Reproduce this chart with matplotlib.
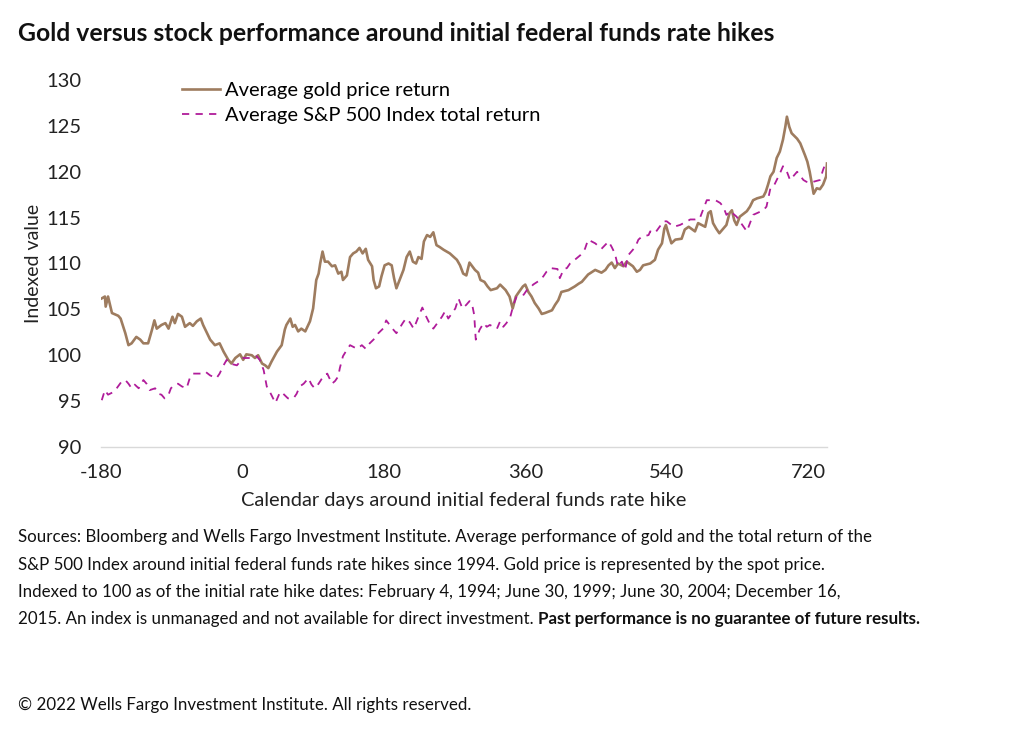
import matplotlib
matplotlib.use("Agg")
import matplotlib.pyplot as plt

# Average gold price return (indexed, day 0 = 100)
gold_days = [-179, -175, -174, -171, -166, -158, -155, -149, -145, -141, -135, -130, -126, -120,
             -115, -112, -109, -103, -98, -94, -89, -86, -82, -77, -73, -67, -63, -58, -53, -50,
             -45, -41, -35, -29, -24, -18, -14, -9, -3, 1, 5, 12, 16, 20, 25, 29, 33, 37, 44, 50,
             54, 56, 61, 64, 67, 71, 75, 80, 86, 90, 94, 97, 99, 102, 105, 109, 114, 118, 122,
             126, 128, 133, 137, 141, 145, 149, 153, 157, 160, 165, 167, 170, 174, 177, 181, 186,
             190, 193, 196, 200, 205, 209, 213, 217, 221, 224, 228, 231, 235, 239, 243, 247, 251,
             256, 264, 273, 277, 281, 285, 289, 296, 300, 303, 308, 312, 316, 324, 328, 335, 340,
             344, 348, 352, 357, 360, 364, 368, 372, 377, 381, 385, 394, 398, 402, 406, 415, 423,
             428, 432, 436, 440, 449, 457, 462, 466, 470, 474, 478, 485, 489, 497, 502, 506, 510,
             519, 525, 529, 534, 537, 539, 542, 546, 551, 559, 563, 568, 576, 580, 589, 593, 596,
             599, 603, 607, 616, 620, 623, 626, 629, 633, 642, 646, 650, 655, 663, 666, 669, 672,
             676, 680, 684, 688, 691, 693, 696, 699, 706, 710, 716, 719, 722, 727, 731, 735, 739,
             743, 744]
gold_vals = [106.2, 106.4, 105.3, 106.4, 104.6, 104.3, 104.0, 102.4, 101.1, 101.3, 102.0, 101.7,
             101.3, 101.3, 102.8, 103.8, 102.9, 103.3, 103.5, 102.9, 104.2, 103.5, 104.5, 104.2,
             103.1, 103.5, 103.2, 103.7, 104.0, 103.3, 102.4, 101.7, 101.1, 101.3, 100.4, 99.5,
             99.1, 99.7, 100.1, 99.5, 100.1, 100.0, 99.7, 100.0, 99.1, 98.9, 98.6, 99.3, 100.4,
             101.1, 102.8, 103.3, 104.0, 103.1, 103.3, 102.6, 102.9, 102.6, 103.7, 105.1, 108.2,
             108.9, 110.0, 111.3, 110.2, 110.2, 109.7, 109.8, 108.9, 109.1, 108.2, 108.7, 110.7,
             111.1, 111.3, 111.7, 111.1, 111.6, 110.4, 109.7, 108.2, 107.3, 107.5, 108.6, 109.8,
             110.0, 109.8, 108.4, 107.3, 108.2, 109.3, 110.7, 111.3, 110.2, 110.0, 110.7, 110.5,
             112.4, 113.1, 112.9, 113.4, 112.0, 111.8, 111.5, 111.1, 110.4, 109.8, 108.9, 108.7,
             110.1, 109.3, 109.0, 108.2, 108.0, 107.5, 107.1, 107.3, 107.7, 107.1, 106.4, 105.1,
             106.4, 106.9, 107.5, 107.7, 106.9, 106.4, 105.7, 105.1, 104.5, 104.6, 104.9, 105.5,
             106.0, 106.9, 107.1, 107.5, 107.8, 108.0, 108.4, 108.8, 109.3, 109.0, 109.3, 109.8,
             110.1, 109.5, 110.0, 109.7, 110.2, 109.7, 109.1, 109.3, 109.8, 110.0, 110.4, 111.5,
             112.2, 113.8, 114.2, 113.3, 112.2, 112.6, 112.7, 113.7, 114.0, 113.5, 114.4, 114.0,
             115.5, 115.7, 114.4, 113.8, 113.3, 114.2, 115.5, 115.8, 114.7, 114.2, 115.1, 115.7,
             116.2, 116.9, 117.1, 117.3, 117.8, 118.6, 119.5, 120.0, 121.5, 122.2, 123.5, 124.9,
             126.0, 124.9, 124.2, 123.6, 123.1, 121.8, 121.1, 120.0, 117.6, 118.2, 118.1, 118.6,
             119.5, 120.9]

# Average S&P 500 Index total return (indexed, day 0 = 100)
sp_days = [-179, -175, -171, -164, -160, -154, -149, -145, -141, -137, -132, -126, -122, -118,
           -111, -107, -103, -99, -94, -91, -86, -82, -77, -71, -67, -63, -51, -47, -41, -33, -29,
           -24, -20, -16, -7, 1, 10, 18, 22, 27, 31, 35, 39, 42, 48, 52, 58, 65, 69, 73, 78, 84,
           88, 92, 97, 103, 108, 114, 118, 122, 124, 128, 133, 137, 146, 152, 157, 162, 168, 173,
           179, 183, 192, 196, 201, 204, 208, 213, 218, 226, 229, 234, 238, 243, 254, 258, 262,
           271, 275, 280, 285, 289, 292, 295, 297, 302, 307, 311, 315, 324, 328, 332, 336, 341,
           345, 349, 358, 362, 366, 370, 379, 383, 387, 392, 401, 404, 409, 413, 417, 423, 430,
           436, 440, 449, 457, 466, 470, 474, 478, 483, 487, 491, 495, 500, 504, 508, 517, 519,
           525, 536, 540, 549, 557, 566, 570, 576, 582, 587, 591, 602, 608, 612, 616, 621, 629,
           633, 642, 650, 663, 667, 672, 676, 680, 684, 688, 693, 697, 706, 714, 718, 722, 735,
           739, 743]
sp_vals = [95.1, 96.2, 95.7, 96.0, 96.4, 97.1, 97.3, 96.9, 96.4, 96.8, 96.4, 97.3, 96.9, 96.2,
           96.4, 95.8, 95.7, 95.3, 95.7, 96.4, 96.8, 96.9, 96.6, 96.4, 97.5, 98.0, 98.0, 98.2,
           97.8, 97.5, 98.0, 98.9, 99.5, 99.1, 98.9, 99.7, 99.7, 99.9, 99.5, 98.4, 96.6, 96.0,
           95.3, 94.8, 96.0, 95.8, 95.3, 95.3, 95.8, 96.6, 96.9, 97.5, 96.8, 96.4, 96.9, 97.7,
           98.0, 96.9, 97.2, 97.7, 98.6, 99.9, 100.6, 101.1, 100.7, 101.1, 100.7, 101.3, 101.8,
           102.4, 102.9, 103.8, 102.8, 102.4, 103.1, 103.5, 104.0, 103.6, 102.9, 104.6, 105.2,
           104.2, 103.5, 102.9, 104.2, 104.8, 104.0, 105.1, 106.2, 105.1, 105.5, 105.9, 105.7,
           104.4, 101.7, 102.8, 103.5, 103.1, 103.3, 102.9, 103.7, 103.1, 103.5, 104.2, 105.5,
           106.4, 106.6, 107.1, 107.3, 107.7, 108.2, 108.6, 109.1, 109.5, 109.4, 108.4, 109.4,
           109.5, 110.0, 110.4, 110.9, 111.6, 112.6, 112.2, 111.6, 112.4, 111.8, 111.1, 109.7,
           110.2, 109.3, 110.9, 111.3, 111.8, 112.6, 112.9, 113.1, 113.5, 113.3, 114.6, 114.6,
           114.0, 114.2, 114.6, 114.8, 114.8, 114.9, 116.0, 116.9, 116.9, 116.6, 116.2, 115.3,
           115.7, 115.1, 114.6, 113.5, 115.3, 115.8, 116.2, 118.2, 118.4, 119.1, 119.8, 120.6,
           120.0, 119.1, 120.0, 119.1, 118.9, 118.8, 119.1, 120.2, 121.1]

x_ticks = [-180, 0, 180, 360, 540, 720]
y_ticks = [90, 95, 100, 105, 110, 115, 120, 125, 130]

title = "Gold versus stock performance around initial federal funds rate hikes"
notes = [
    "Sources: Bloomberg and Wells Fargo Investment Institute. Average performance of gold and the total return of the",
    "S&P 500 Index around initial federal funds rate hikes since 1994. Gold price is represented by the spot price.",
    "Indexed to 100 as of the initial rate hike dates: February 4, 1994; June 30, 1999; June 30, 2004; December 16,",
    "2015. An index is unmanaged and not available for direct investment. ",
]
note_bold = "Past performance is no guarantee of future results."
copyright_txt = "\u00a9 2022 Wells Fargo Investment Institute. All rights reserved."

plt.rcParams["font.family"] = ["Lato", "DejaVu Sans"]
plt.rcParams["axes.unicode_minus"] = False

gold_color = "#9e7c5f"
sp_color = "#b01c9a"

fig = plt.figure(figsize=(10.24, 7.49), dpi=100)
ax = fig.add_axes([0.0986, 0.4032, 0.709, 0.4900])

ax.plot(gold_days, gold_vals, color=gold_color, lw=1.9, label="Average gold price return")
ax.plot(sp_days, sp_vals, color=sp_color, lw=1.3, linestyle=(0, (4, 3.5)),
        label="Average S&P 500 Index total return")

ax.set_xlim(-180, 744)
ax.set_ylim(90, 130)
ax.set_xticks(x_ticks)
ax.set_yticks(y_ticks)
ax.tick_params(length=0, labelsize=14.5, colors="#222222")
ax.tick_params(axis="y", pad=14)
ax.tick_params(axis="x", pad=12)
for s in ["top", "right", "left"]:
    ax.spines[s].set_visible(False)
ax.spines["bottom"].set_color("#d9d9d9")
ax.spines["bottom"].set_linewidth(1.0)

ax.set_xlabel("Calendar days around initial federal funds rate hike", fontsize=14.4,
              color="#222222", labelpad=8)
ax.set_ylabel("Indexed value", fontsize=14, color="#222222", labelpad=3)

ax.legend(loc="upper left", bbox_to_anchor=(0.086, 1.045), frameon=False, fontsize=14.5,
          handlelength=1.9, handletextpad=0.25, labelspacing=0.4)

fig.text(0.018, 0.955, title, fontsize=17.8, fontweight="bold",
         ha="left", va="center", color="#111111")

note_y = [537, 565, 592, 619]
for line, yy in zip(notes, note_y):
    fig.text(0.018, 1 - yy / 749, line, fontsize=12.2, ha="left",
             va="center", color="#111111")

fig.canvas.draw()
r = fig.canvas.get_renderer()
last = fig.texts[-1]
bb = last.get_window_extent(renderer=r)
fig.text(bb.x1 / fig.bbox.width, 1 - note_y[-1] / 749, note_bold, fontsize=12.2,
         fontweight="bold", ha="left", va="center", color="#111111")

fig.text(0.018, 1 - 705 / 749, copyright_txt, fontsize=12.2, ha="left",
         va="center", color="#111111")

fig.savefig("out.png", dpi=100)
